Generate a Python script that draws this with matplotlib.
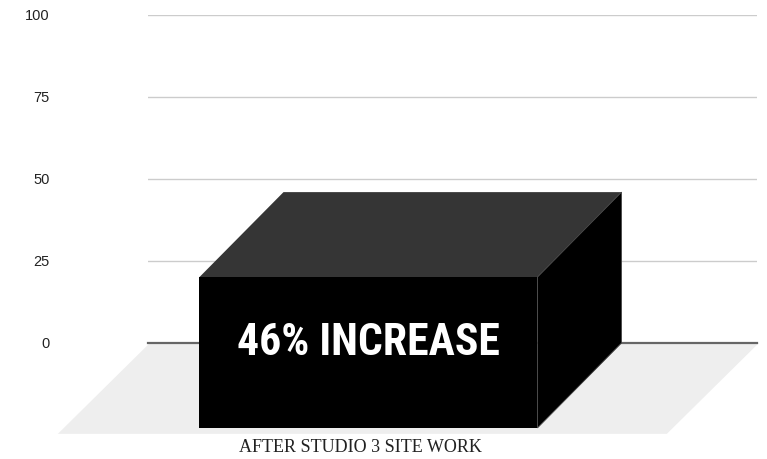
import matplotlib
matplotlib.use("Agg")
import matplotlib.pyplot as plt
from matplotlib.patches import Polygon
from matplotlib import font_manager

# Chart data
categories = ["AFTER STUDIO 3 SITE WORK"]
values = [46]
value_labels = ["46% INCREASE"]
y_ticks = [0, 25, 50, 75, 100]


def first_font(candidates):
    names = {f.name for f in font_manager.fontManager.ttflist}
    for c in candidates:
        if c in names:
            return c
    return "DejaVu Sans"


sans = first_font(["Liberation Sans", "Arial", "DejaVu Sans"])
serif = first_font(["Liberation Serif", "DejaVu Serif"])
narrow = first_font(["Liberation Sans Narrow", "DejaVu Sans Condensed", "Roboto Condensed", "Liberation Sans"])

W, H = 767, 459
fig = plt.figure(figsize=(W / 100, H / 100), dpi=100)
ax = fig.add_axes([148 / W, 116 / H, 609 / W, 328 / H])
ax.set_xlim(-0.5, 0.5)
ax.set_ylim(0, 100)

# 3D look: depth offsets (in axis units) for the bar and the floor
bar_width = 0.555
bar_dx, bar_dy = 0.138, 25.9
floor_dx, floor_dy = 0.151, 27.7

# floor
xl, xr = ax.get_xlim()
floor = Polygon([(xl + 0.003, 0), (xr + 0.003, 0), (xr + 0.003 - floor_dx, -floor_dy),
                 (xl + 0.003 - floor_dx, -floor_dy)],
                closed=True, facecolor="#eeeeee", edgecolor="none", zorder=0, clip_on=False)
ax.add_patch(floor)

# gridlines
ax.set_yticks(y_ticks)
ax.grid(axis="y", color="#cccccc", linewidth=1, zorder=1)
ax.axhline(0, color="#666666", linewidth=1.6, zorder=2, clip_on=False)
ax.set_xticks([])
for s in ax.spines.values():
    s.set_visible(False)
ax.tick_params(axis="y", length=0, pad=71, labelsize=10.5, labelcolor="#222222")
for lab in ax.get_yticklabels():
    lab.set_fontfamily(sans)

# bars
for i, (cat, v, lbl) in enumerate(zip(categories, values, value_labels)):
    x0, x1 = i - bar_width / 2, i + bar_width / 2
    top = Polygon([(x0 - bar_dx, v - bar_dy), (x1 - bar_dx, v - bar_dy), (x1, v), (x0, v)],
                  closed=True, facecolor="#353535", edgecolor="none", zorder=3, clip_on=False)
    side = Polygon([(x1 - bar_dx, -bar_dy), (x1, 0), (x1, v), (x1 - bar_dx, v - bar_dy)],
                   closed=True, facecolor="#000000", edgecolor="#444444", linewidth=0.6,
                   zorder=3, clip_on=False)
    front = Polygon([(x0 - bar_dx, -bar_dy), (x1 - bar_dx, -bar_dy), (x1 - bar_dx, v - bar_dy),
                     (x0 - bar_dx, v - bar_dy)],
                    closed=True, facecolor="#000000", edgecolor="none", zorder=4, clip_on=False)
    for p in (top, side, front):
        ax.add_patch(p)

    ax.annotate(lbl, xy=(i - bar_dx, v / 2 - bar_dy), xytext=(0, 6.5), textcoords="offset points",
                ha="center", va="center", color="white", fontsize=31.5, fontweight="bold",
                fontfamily=narrow, zorder=5, annotation_clip=False)

    ax.annotate(cat, xy=(i - floor_dx, -floor_dy), xytext=(0, -10), textcoords="offset points",
                ha="center", va="center", color="#222222", fontsize=13,
                fontfamily=serif, annotation_clip=False)

fig.savefig("out.png", dpi=100)
